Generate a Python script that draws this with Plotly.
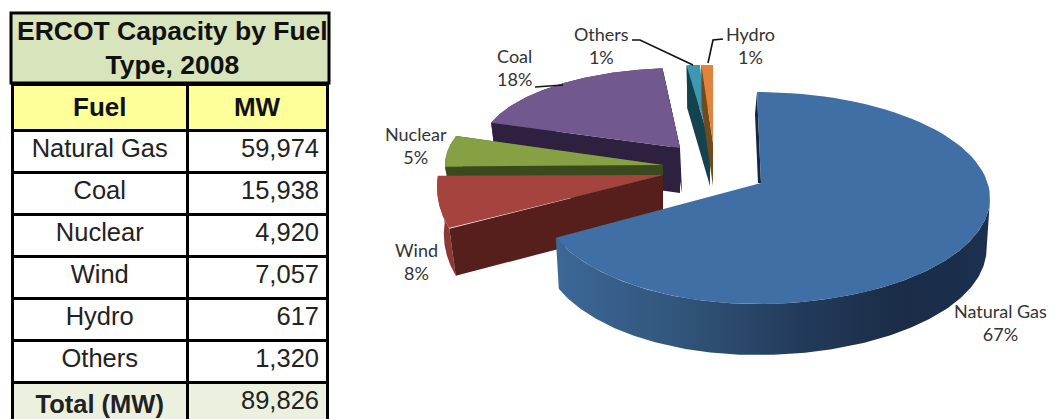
import numpy as np
import plotly.graph_objects as go

# ---- data ----
table_title = "ERCOT Capacity by Fuel<br>Type, 2008"
table_headers = ["Fuel", "MW"]
table_fuels = ["Natural Gas", "Coal", "Nuclear", "Wind", "Hydro", "Others"]
table_mw = [59974, 15938, 4920, 7057, 617, 1320]
total_label = "Total (MW)"
total_mw = 89826
pie_order = ["Natural Gas", "Wind", "Nuclear", "Coal", "Others", "Hydro"]

# ---- style / geometry of the tilted, exploded pie (pixel-like axes) ----
# apex, rim centre, rim radii (right, left, vertical), depth, angle warp
geom = {
    "Natural Gas": dict(ax=761, ay=183, cx=757, cy=198, rr=233, rl=217, ry=106, d=51, k=248/240.36, rot=0),
    "Wind": dict(ax=663, ay=175, cx=663, cy=187, rr=226, rl=226, ry=128, d=47, k=0.85, rot=46.7),
    "Nuclear": dict(ax=663, ay=165, cx=663, cy=165, rr=218, rl=218, ry=92, d=32, k=1, rot=0),
    "Coal": dict(ax=680, ay=148, cx=680, cy=148, rr=199, rl=199, ry=80, d=45, k=1.042, rot=-12.1),
    "Others": dict(ax=710, ay=143, cx=710, cy=143, rr=190, rl=190, ry=78, d=43, k=0.755, rot=87),
    "Hydro": dict(ax=713, ay=143, cx=713, cy=143, rr=270, rl=270, ry=78, d=43, k=1, rot=0),
}
top_col = {"Natural Gas": "#3f6fa5", "Wind": "#a5443f", "Nuclear": "#86a044",
           "Coal": "#71588f", "Others": "#3f97b2", "Hydro": "#df843a"}
side_col = {"Natural Gas": "#16263f", "Wind": "#571f1c", "Nuclear": "#3a4a1e",
            "Coal": "#2e2140", "Others": "#14434f", "Hydro": "#6f4a1c"}
draw_order = ["Coal", "Others", "Hydro", "Nuclear", "Wind", "Natural Gas"]
label_pos = {"Natural Gas": (1000, 322), "Wind": (416, 261), "Nuclear": (416, 145),
             "Coal": (514, 67), "Others": (601, 45), "Hydro": (750, 45)}
leaders = {"Others": ([632, 640, 693], [40, 40, 65]),
           "Hydro": ([723, 713, 708], [39, 40, 63]),
           "Coal": ([535, 563], [87, 85])}

# ---- angles from the values ----
mw = dict(zip(table_fuels, table_mw))
total = sum(table_mw)
angles, start = {}, 0.0
for f in pie_order:
    sweep = mw[f] / total * 360
    angles[f] = (start, start + sweep)
    start += sweep


def rim(f, deg):
    g = geom[f]
    t = np.radians(np.asarray(deg) * g["k"] + g["rot"])
    s, c = np.sin(t), np.cos(t)
    x = g["cx"] + np.where(s >= 0, g["rr"], g["rl"]) * s
    y = g["cy"] - g["ry"] * c
    return x, y


fig = go.Figure()


def poly(x, y, color, **kw):
    fig.add_trace(go.Scatter(x=list(x), y=list(y), mode="lines", fill="toself", fillcolor=color,
                             line=dict(width=0, color=color), hoverinfo="skip", showlegend=False, **kw))


for f in draw_order:
    g = geom[f]
    a0, a1 = angles[f]
    th = np.linspace(a0, a1, 90)
    x, y = rim(f, th)
    if f == "Natural Gas":
        th2 = np.linspace(88, a1, 160)
        wx, wy = rim(f, th2)
        lx = g["cx"] + (wx - g["cx"]) * 0.985
        ly = wy + g["d"]
        fig.add_trace(go.Scatter(
            x=list(wx) + list(lx[::-1]), y=list(wy) + list(ly[::-1]), mode="lines", fill="toself",
            line=dict(width=0), hoverinfo="skip", showlegend=False,
            fillgradient=dict(type="horizontal", start=555, stop=990,
                              colorscale=[[0, "#3c6797"], [0.25, "#33587f"], [0.55, "#233c5c"],
                                          [0.8, "#1a2c47"], [1, "#1b3050"]])))
        # thin inner face on the 12 o'clock cut
        tx, ty = rim(f, 0.0)
        poly([g["ax"], float(tx), float(tx) - 2, g["ax"] - 3], [g["ay"], float(ty), float(ty) + 22, g["ay"]], side_col[f])
    else:
        # outer wall
        wx, wy = x, y
        lx = wx + (wx - g["ax"]) * -0.03
        ly = wy + g["d"]
        wall = {"Wind": "#8c3835", "Nuclear": "#5c7030", "Coal": "#3f2f57",
                "Others": "#1c5a6b", "Hydro": "#8f5a22"}[f]
        poly(list(wx) + list(lx[::-1]), list(wy) + list(ly[::-1]), wall)
        # inner cut faces
        for e in ([0] if f in ("Wind", "Others", "Hydro") else [0, -1]):
            px, py = x[e], y[e]
            qx = px + (px - g["ax"]) * -0.03
            poly([g["ax"], px, qx, g["ax"]], [g["ay"], py, py + g["d"], g["ay"] + g["d"]], side_col[f])
        if f in ("Coal",):
            px, py = x[-1], y[-1]
            poly([g["ax"], px, px, g["ax"] + 2], [g["ay"], py, py + 12, g["ay"] + g["d"]], side_col[f])
    poly([g["ax"]] + list(x) + [g["ax"]], [g["ay"]] + list(y) + [g["ay"]], top_col[f])

for f, (lx, ly) in leaders.items():
    fig.add_trace(go.Scatter(x=lx, y=ly, mode="lines", line=dict(color="#111111", width=1.6),
                             hoverinfo="skip", showlegend=False))

for f in pie_order:
    lx, ly = label_pos[f]
    fig.add_annotation(x=lx, y=ly, xref="x", yref="y", text=f"{f}<br>{round(mw[f] / total * 100)}%",
                       showarrow=False, align="center",
                       font=dict(family="Lato", size=18, color="#333333"))

# ---- table ----
W, H = 1050, 419
def dom_x(a, b): return [a / W, b / W]
def dom_y(top, bottom): return [1 - bottom / H, 1 - top / H]

FONT = "Liberation Sans"
LINE = dict(color="#000000", width=3)
fig.add_shape(type="rect", x0=11, x1=329, y0=13, y1=83, xref="x", yref="y",
              fillcolor="#d7e4bc", line=dict(color="#000000", width=3), layer="below")
fig.add_annotation(x=172, y=48, xref="x", yref="y", text=f"<b>{table_title}</b>", showarrow=False,
                   align="center", font=dict(family=FONT, size=26.5, color="#111111"))
fuel_col = table_fuels + [f"<b>{total_label}</b>"]
mw_col = [f"{v:,}" for v in table_mw] + [f"{total_mw:,}"]
fills = ["#ffffff"] * len(table_mw) + ["#ebf1de"]
fig.add_trace(go.Table(
    domain=dict(x=dom_x(12, 328), y=dom_y(84, 419)),
    columnwidth=[176, 140],
    header=dict(values=[f"<b>{h}</b>" for h in table_headers], height=41, align="center",
                fill_color="#ffff99", line=LINE, font=dict(family=FONT, size=26, color="#111111")),
    cells=dict(values=[fuel_col, mw_col], height=42, align=["center", "right"],
               fill_color=[fills, fills], line=LINE,
               font=dict(family=FONT, size=25.5, color="#222222")),
))

fig.update_xaxes(visible=False, range=[0, W], domain=[0, 1], fixedrange=True)
fig.update_yaxes(visible=False, range=[H, 0], domain=[0, 1], fixedrange=True)
fig.update_layout(width=W, height=H, margin=dict(l=0, r=0, t=0, b=0), showlegend=False,
                  paper_bgcolor="white", plot_bgcolor="rgba(0,0,0,0)")
fig.write_html("out.html", post_script="document.body.style.margin='0';", config={"displayModeBar": False})
